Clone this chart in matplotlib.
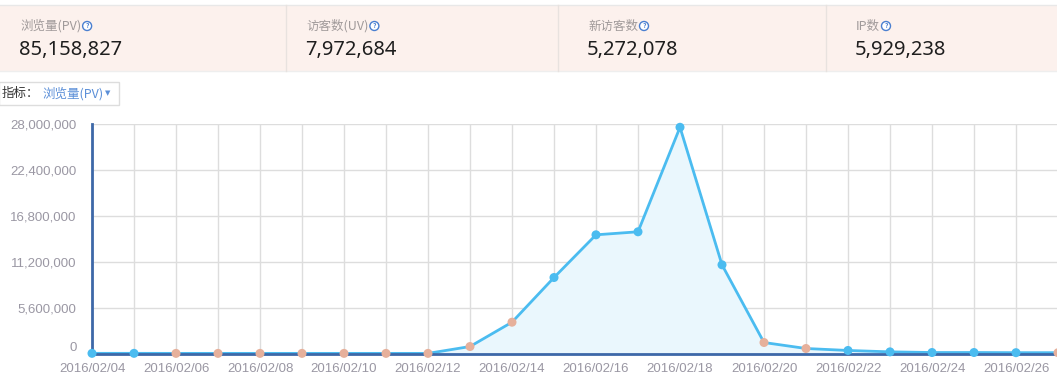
import matplotlib
matplotlib.use("Agg")
import matplotlib.pyplot as plt
from matplotlib.patches import Rectangle
from matplotlib.ticker import FuncFormatter, MultipleLocator

# ----------------------------------------
# DATA
# ----------------------------------------
dates = ["2016/02/%02d" % d for d in range(4, 28)]
pv = [
    20000, 20000, 15000, 15000, 15000, 15000, 15000, 15000, 15000,
    850000, 3820000, 9270000, 14480000, 14850000, 27600000, 10820000,
    1340000, 610000, 370000, 200000, 120000, 120000, 100000, 100000,
]
# 1 = holiday / weekend (salmon dot), 0 = normal day (blue dot)
off_day = [0, 0, 1, 1, 1, 1, 1, 1, 1, 1, 1, 0, 0, 0, 0, 0, 1, 1, 0, 0, 0, 0, 0, 1]

stat_labels = ["浏览量(PV)", "访客数(UV)", "新访客数", "IP数"]
stat_values = ["85,158,827", "7,972,684", "5,272,078", "5,929,238"]

# ----------------------------------------
# STYLE
# ----------------------------------------
W, H = 1057, 376
LINE = "#4bbcf0"
FILL = "#eaf7fd"
OFF = "#e6b09b"
AXIS = "#3d68a8"
GRID = "#dddddd"
TICK = "#9a97a3"

plt.rcParams["font.family"] = ["Noto Sans CJK SC", "DejaVu Sans"]


def fx(x):
    return x / W


def fy(y):
    return 1 - y / H


fig = plt.figure(figsize=(W / 100, H / 100), dpi=100)

# ----------------------------------------
# STAT PANEL
# ----------------------------------------
fig.patches.append(Rectangle((0, fy(71)), 1, fy(5) - fy(71), transform=fig.transFigure,
                             facecolor="#fcf1ed", edgecolor="none", zorder=0))
fig.add_artist(plt.Line2D([0, 1], [fy(4.5), fy(4.5)], color="#e8e8e8", lw=1))
fig.add_artist(plt.Line2D([0, 1], [fy(71), fy(71)], color="#eeeeee", lw=1))
for xd in [286, 558, 826]:
    fig.add_artist(plt.Line2D([fx(xd), fx(xd)], [fy(5), fy(71)], color="#e8e2df", lw=1))

col_x = [20, 306, 588, 856]
label_texts = []
for x, lab, val in zip(col_x, stat_labels, stat_values):
    t = fig.text(fx(x), fy(26), lab, fontsize=9, color="#a09a9a", va="center", ha="left")
    label_texts.append(t)
    fig.text(fx(x - 1), fy(49.5), val, fontsize=14.5, color="#1e1e1e",
             va="center", ha="left", family=["Noto Sans", "DejaVu Sans"])

# little "?" icons after each label
renderer = fig.canvas.get_renderer()
for t in label_texts:
    bb = t.get_window_extent(renderer)
    fig.text((bb.x1 + 6) / W, fy(26), "?", fontsize=4.8, color="#4a7fd0",
             ha="center", va="center", fontweight="bold",
             bbox=dict(boxstyle="circle,pad=0.15", fc="white", ec="#4a7fd0", lw=1))

# selector box
fig.patches.append(Rectangle((fx(-1), fy(105)), fx(120), fy(82) - fy(105),
                             transform=fig.transFigure, facecolor="white",
                             edgecolor="#dddddd", lw=1))
fig.text(fx(2), fy(93.5), "指标：", fontsize=9, color="#333333", va="center")
fig.text(fx(42), fy(93.5), "浏览量(PV)", fontsize=9, color="#5b8fd8", va="center")
fig.text(fx(108), fy(93.5), "▼", fontsize=5, color="#5b8fd8", va="center", ha="center",
         family=["DejaVu Sans"])

# ----------------------------------------
# CHART
# ----------------------------------------
left, right, top, bottom = 92, 1058, 124, 353.5
ax = fig.add_axes([fx(left), fy(bottom), fx(right - left), fy(top) - fy(bottom)])
x = list(range(len(dates)))

ax.fill_between(x, pv, 0, color=FILL, zorder=1)
ax.plot(x, pv, color=LINE, lw=2, zorder=3, clip_on=False)
colors = [OFF if o else LINE for o in off_day]
ax.scatter(x, pv, s=42, c=colors, zorder=5, clip_on=False, linewidths=0)

ax.set_xlim(0, len(dates) - 1)
ax.set_ylim(0, 28000000)
ax.yaxis.set_major_locator(MultipleLocator(5600000))
# "0" is drawn separately, sitting on the baseline
ax.yaxis.set_major_formatter(FuncFormatter(lambda v, p: f"{int(v):,}" if v > 0 else ""))
ax.annotate("0", xy=(0, 0), xycoords=("axes fraction", "data"),
            xytext=(-11, 1.5), textcoords="offset points", ha="right", va="baseline",
            fontsize=9.5, color=TICK, family=["Liberation Sans", "DejaVu Sans"])
ax.set_xticks(x)
ax.set_xticklabels([d if i % 2 == 0 else "" for i, d in enumerate(dates)])

ax.grid(True, color=GRID, lw=1)
ax.set_axisbelow(True)
for s in ["top", "right"]:
    ax.spines[s].set_visible(False)
for s in ["left", "bottom"]:
    ax.spines[s].set_color(AXIS)
    ax.spines[s].set_linewidth(2)
    ax.spines[s].set_zorder(4)

ax.tick_params(axis="y", length=0, colors=TICK, labelsize=9.5, pad=11)
ax.tick_params(axis="x", length=0, colors=TICK, labelsize=9.5, pad=7)
for lab in ax.get_xticklabels() + ax.get_yticklabels():
    lab.set_family(["Liberation Sans", "DejaVu Sans"])

ax.set_facecolor("none")
fig.savefig("out.png", dpi=100)
